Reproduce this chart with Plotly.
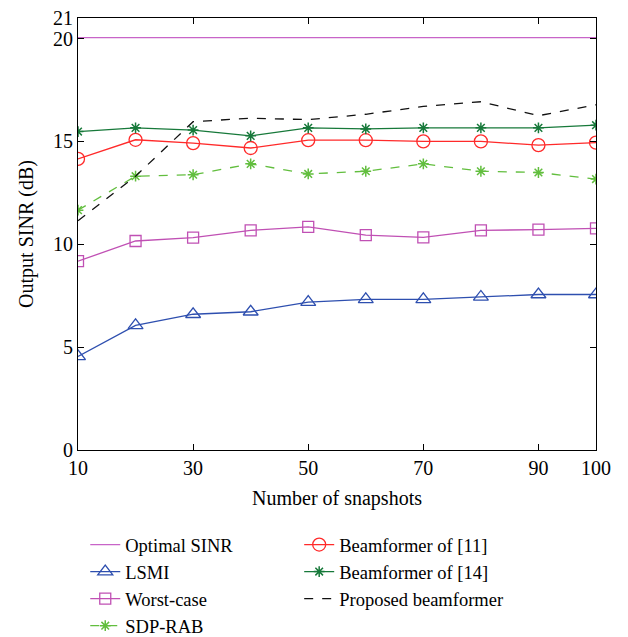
import plotly.graph_objects as go

snapshots = [10, 20, 30, 40, 50, 60, 70, 80, 90, 100]
optimal_sinr = [20.05] * 10
lsmi = [4.55, 6.06, 6.60, 6.72, 7.19, 7.32, 7.32, 7.44, 7.56, 7.56]
worst_case = [9.18, 10.16, 10.32, 10.68, 10.85, 10.45, 10.34, 10.68, 10.71, 10.77]
sdp_rab = [11.66, 13.31, 13.38, 13.91, 13.42, 13.55, 13.91, 13.55, 13.49, 13.17]
bf11 = [14.15, 15.08, 14.92, 14.68, 15.06, 15.06, 15.00, 15.00, 14.82, 14.94]
bf14 = [15.48, 15.66, 15.55, 15.27, 15.66, 15.61, 15.66, 15.66, 15.66, 15.79]
proposed = [11.14, 13.31, 15.96, 16.13, 16.06, 16.32, 16.70, 16.93, 16.25, 16.78]

x_ticks = [10, 30, 50, 70, 90, 100]
y_ticks = [0, 5, 10, 15, 20, 21]

FONT = "Liberation Serif"
FS = 20
LFS = 18.5

fig = go.Figure()

fig.add_trace(go.Scatter(x=snapshots, y=optimal_sinr, name="Optimal SINR", mode="lines",
                         line=dict(color="#C864C8", width=1.3), legend="legend"))
fig.add_trace(go.Scatter(x=snapshots, y=lsmi, name="LSMI", mode="lines+markers",
                         line=dict(color="#2E4FAF", width=1.3),
                         marker=dict(symbol="triangle-up-open", size=13, color="#2E4FAF",
                                     line=dict(width=1.3, color="#2E4FAF")), legend="legend"))
fig.add_trace(go.Scatter(x=snapshots, y=worst_case, name="Worst-case", mode="lines+markers",
                         line=dict(color="#C050B4", width=1.3),
                         marker=dict(symbol="square-open", size=11, color="#C050B4",
                                     line=dict(width=1.3, color="#C050B4")), legend="legend"))
fig.add_trace(go.Scatter(x=snapshots, y=sdp_rab, name="SDP-RAB", mode="lines+markers",
                         line=dict(color="#62BE3E", width=1.3, dash="dash"),
                         marker=dict(symbol="asterisk-open", size=9, color="#62BE3E",
                                     line=dict(width=1.5, color="#62BE3E")), legend="legend"))
fig.add_trace(go.Scatter(x=snapshots, y=bf11, name="Beamformer of [11]", mode="lines+markers",
                         line=dict(color="#FF2A2A", width=1.3),
                         marker=dict(symbol="circle-open", size=13, color="#FF2A2A",
                                     line=dict(width=1.3, color="#FF2A2A")), legend="legend2"))
fig.add_trace(go.Scatter(x=snapshots, y=bf14, name="Beamformer of [14]", mode="lines+markers",
                         line=dict(color="#17793A", width=1.3),
                         marker=dict(symbol="asterisk-open", size=9, color="#17793A",
                                     line=dict(width=1.5, color="#17793A")), legend="legend2"))
fig.add_trace(go.Scatter(x=snapshots, y=proposed, name="Proposed beamformer", mode="lines",
                         line=dict(color="#111111", width=1.3, dash="dash"), legend="legend2"))

axis_common = dict(showgrid=False, zeroline=False, showline=True, linecolor="black", linewidth=1,
                   mirror="ticks", ticks="inside", ticklen=6, tickcolor="black",
                   tickfont=dict(family=FONT, size=FS, color="black"), automargin=False)

leg_y = 1 - 526 / 637

fig.update_layout(
    width=628, height=637,
    margin=dict(l=78, r=32, t=18, b=187),
    paper_bgcolor="white", plot_bgcolor="white",
    font=dict(family=FONT, size=FS, color="black"),
    xaxis=dict(range=[10, 100], tickvals=x_ticks, tickangle=0,
               title=dict(text="Number of snapshots", font=dict(family=FONT, size=FS), standoff=12),
               **axis_common),
    yaxis=dict(range=[0, 21], tickvals=y_ticks,
               title=dict(text="Output SINR (dB)", font=dict(family=FONT, size=FS), standoff=14),
               **axis_common),
    legend=dict(x=0.014, y=leg_y, xref="paper", yref="container",
                xanchor="left", yanchor="top", bgcolor="rgba(0,0,0,0)",
                font=dict(family=FONT, size=LFS), tracegroupgap=0),
    legend2=dict(x=0.427, y=leg_y, xref="paper", yref="container",
                 xanchor="left", yanchor="top", bgcolor="rgba(0,0,0,0)",
                 font=dict(family=FONT, size=LFS), tracegroupgap=0),
)

fig.write_html("out.html")
